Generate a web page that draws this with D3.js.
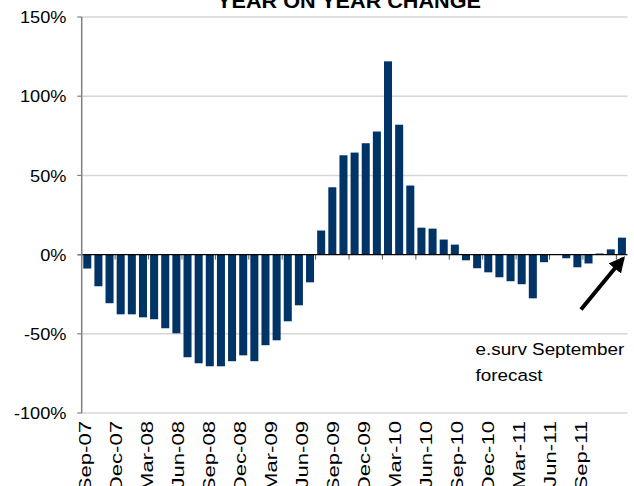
<!DOCTYPE html>
<html>
<head>
<meta charset="utf-8">
<script src="https://cdn.jsdelivr.net/npm/d3@7"></script>
<style>
  html, body { margin: 0; padding: 0; background: #fff; }
  svg { display: block; }
  text { font-family: "Liberation Sans", Arial, sans-serif; }
</style>
</head>
<body>
<svg id="chart" width="634" height="486"></svg>
<script>
const months = [
  "Sep-07","Oct-07","Nov-07","Dec-07","Jan-08","Feb-08","Mar-08","Apr-08","May-08","Jun-08",
  "Jul-08","Aug-08","Sep-08","Oct-08","Nov-08","Dec-08","Jan-09","Feb-09","Mar-09","Apr-09",
  "May-09","Jun-09","Jul-09","Aug-09","Sep-09","Oct-09","Nov-09","Dec-09","Jan-10","Feb-10",
  "Mar-10","Apr-10","May-10","Jun-10","Jul-10","Aug-10","Sep-10","Oct-10","Nov-10","Dec-10",
  "Jan-11","Feb-11","Mar-11","Apr-11","May-11","Jun-11","Jul-11","Aug-11","Sep-11"
];
const yoyChange = [
  -8.8, -20, -30.7, -37.7, -37.7, -39.6, -40.8, -46.5, -49.7, -64.8,
  -68.6, -70.5, -70.5, -67.3, -63.6, -67.3, -57.2, -54.1, -42.1, -32,
  -17.5, 15.2, 42.5, 62.7, 64.4, 70.3, 77.7, 122, 82, 43.6,
  17, 16.4, 9.5, 6.3, -3.6, -8.6, -11.2, -14.3, -16.8, -18.7,
  -27.6, -4.8, 0, -2.3, -8, -5.6, 0.7, 3.3, 10.7
];
const tickLabels = ["Sep-07","Dec-07","Mar-08","Jun-08","Sep-08","Dec-08","Mar-09","Jun-09",
  "Sep-09","Dec-09","Mar-10","Jun-10","Sep-10","Dec-10","Mar-11","Jun-11","Sep-11"];
const yTicks = [-100, -50, 0, 50, 100, 150];
const title = "YEAR ON YEAR CHANGE";
const noteLines = ["e.surv September", "forecast"];

const svg = d3.select("#chart");
const pLeft = 81.7, pRight = 627.5, pTop = 17, pBottom = 413;

const x = d3.scaleBand().domain(months).range([pLeft, pRight]).paddingInner(0.28).paddingOuter(0.14);
const y = d3.scaleLinear().domain([-100, 150]).range([pBottom, pTop]);

// gridlines
svg.append("g").selectAll("line").data(yTicks.filter(d => d !== 0)).join("line")
  .attr("x1", pLeft).attr("x2", pRight)
  .attr("y1", d => y(d)).attr("y2", d => y(d))
  .attr("stroke", "#d6d6d6").attr("stroke-width", 1.5);

// x tick marks (every 3 months at band boundaries)
const step = x.step();
const tickIdx = d3.range(0, months.length, 3);
svg.append("g").selectAll("line").data(tickIdx).join("line")
  .attr("x1", i => pLeft + i * step).attr("x2", i => pLeft + i * step)
  .attr("y1", y(0)).attr("y2", y(0) + 5)
  .attr("stroke", "#555").attr("stroke-width", 1);

// bars
svg.append("g").selectAll("rect").data(yoyChange).join("rect")
  .attr("x", (d, i) => x(months[i]))
  .attr("width", x.bandwidth())
  .attr("y", d => y(Math.max(0, d)))
  .attr("height", d => Math.abs(y(d) - y(0)))
  .attr("fill", "#003366");

// zero line
svg.append("line").attr("x1", pLeft - 4).attr("x2", pRight)
  .attr("y1", y(0)).attr("y2", y(0))
  .attr("stroke", "#000").attr("stroke-width", 1.2);

// y axis
svg.append("line").attr("x1", pLeft).attr("x2", pLeft).attr("y1", pTop).attr("y2", pBottom)
  .attr("stroke", "#808080").attr("stroke-width", 1.5);
svg.append("g").selectAll("line").data(yTicks).join("line")
  .attr("x1", pLeft - 4.5).attr("x2", pLeft).attr("y1", d => y(d)).attr("y2", d => y(d))
  .attr("stroke", "#808080").attr("stroke-width", 1.2);
svg.append("g").selectAll("text").data(yTicks).join("text")
  .attr("transform", d => `translate(66.5,${y(d)}) scale(1.07,1)`)
  .attr("dy", "0.36em")
  .attr("text-anchor", "end").attr("font-size", 17)
  .attr("fill", "#000")
  .text(d => d + "%");

// x labels
const xl = d3.scalePoint().domain(tickLabels).range([85, 581]);
svg.append("g").selectAll("text").data(tickLabels).join("text")
  .attr("transform", d => `translate(${xl(d)},421) rotate(-90) scale(1.3,1)`)
  .attr("dy", "0.36em")
  .attr("text-anchor", "end").attr("font-size", 17)
  .attr("fill", "#000")
  .text(d => d);

// title
svg.append("text").attr("transform", "translate(349,8) scale(1.03,1)")
  .attr("text-anchor", "middle").attr("font-size", 21).attr("font-weight", "bold")
  .attr("fill", "#000").text(title);

// annotation
svg.append("g").selectAll("text").data(noteLines).join("text")
  .attr("transform", (d, i) => `translate(475.5,${355 + i * 26}) scale(1.11,1)`)
  .attr("font-size", 17).attr("fill", "#000")
  .text(d => d);

// arrow
const defs = svg.append("defs");
defs.append("marker").attr("id", "ah").attr("viewBox", "0 0 10 10")
  .attr("refX", 8).attr("refY", 5).attr("markerWidth", 4).attr("markerHeight", 4)
  .attr("orient", "auto").attr("markerUnits", "strokeWidth")
  .append("path").attr("d", "M0,0 L10,5 L0,10 Z").attr("fill", "#000");
const lastMonth = months[months.length - 1];
svg.append("line")
  .attr("x1", 581).attr("y1", 309.5)
  .attr("x2", x(lastMonth) + x.bandwidth() / 2 + 1).attr("y2", y(0) + 4)
  .attr("stroke", "#000").attr("stroke-width", 4)
  .attr("marker-end", "url(#ah)");
</script>
</body>
</html>
